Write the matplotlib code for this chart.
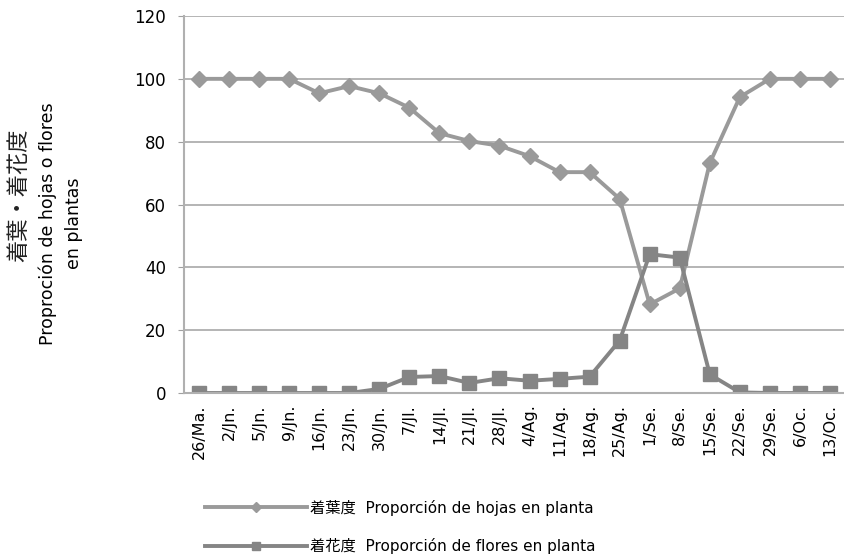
import matplotlib
matplotlib.use("Agg")
import matplotlib.pyplot as plt

plt.rcParams['font.family'] = ['DejaVu Sans', 'Noto Sans CJK JP']

# weekly sampling dates
fechas = ['26/Ma.', '2/Jn.', '5/Jn.', '9/Jn.', '16/Jn.', '23/Jn.', '30/Jn.',
          '7/Jl.', '14/Jl.', '21/Jl.', '28/Jl.', '4/Ag.', '11/Ag.', '18/Ag.',
          '25/Ag.', '1/Se.', '8/Se.', '15/Se.', '22/Se.', '29/Se.', '6/Oc.',
          '13/Oc.']

hojas = [100, 100, 100, 100, 95.4, 97.7, 95.4, 90.8, 82.7, 80.2, 78.7, 75.4,
         70.3, 70.3, 61.8, 28.2, 33.3, 73.2, 94.2, 100, 100, 100]
flores = [0, 0, 0, 0, 0, 0, 1.3, 5.1, 5.4, 3.2, 4.7, 3.9, 4.5, 5.2, 16.7,
          44.2, 43.1, 5.9, 0.2, 0, 0, 0]

lbl_hojas = '着葉度  Proporción de hojas en planta'
lbl_flores = '着花度  Proporción de flores en planta'

fig = plt.figure(figsize=(8.45, 5.54), dpi=100)
ax = fig.add_axes([0.2178, 0.2906, 0.7822, 0.6805])

x = list(range(len(fechas)))
ax.plot(x, hojas, color='#9a9a9a', lw=2.8, marker='D', ms=8.5,
        label=lbl_hojas)
ax.plot(x, flores, color='#858585', lw=2.8, marker='s', ms=9.5,
        label=lbl_flores)

ax.set_xlim(-0.5, len(fechas) - 0.5)
ax.set_ylim(0, 120)
ax.set_yticks(range(0, 121, 20))
ax.set_xticks(x)
ax.set_xticklabels(fechas, rotation=90, fontsize=11.5)
ax.tick_params(axis='y', labelsize=12, length=4, color='#a0a0a0', pad=9)
ax.tick_params(axis='x', length=0, pad=8)
ax.yaxis.grid(True, color='#a8a8a8', lw=1.2)
ax.set_axisbelow(True)
for s in ['top', 'right']:
    ax.spines[s].set_visible(False)
for s in ['left', 'bottom']:
    ax.spines[s].set_color('#b0b0b0')
    ax.spines[s].set_linewidth(1.5)

# y label: Japanese line bigger than the Spanish lines
fig.text(0.022, 0.648, '着葉・着花度', rotation=90, ha='center',
         va='center', fontsize=16, color='#222222')
fig.text(0.072, 0.597, 'Proproción de hojas o flores\nen plantas',
         rotation=90, ha='center', va='center', fontsize=12.5,
         linespacing=1.6, multialignment='center')

fig.legend(loc='center left', bbox_to_anchor=(0.2426, 0.0487), frameon=False,
           fontsize=11, handlelength=6.7, handletextpad=0.15, labelspacing=1.5,
           numpoints=1, markerscale=0.6, borderpad=0, borderaxespad=0)

fig.savefig('out.png', dpi=100)
